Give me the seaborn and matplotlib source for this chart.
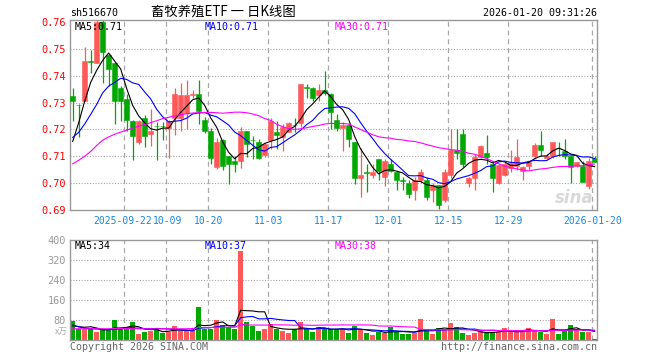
import numpy as np
import pandas as pd
import matplotlib
matplotlib.use("Agg")
import matplotlib.pyplot as plt
import seaborn as sns

# ---------------- data ----------------
opens = [0.7325, 0.7291, 0.7305, 0.7453, 0.7447, 0.7600, 0.7478, 0.7447, 0.7355, 0.7314,
         0.7232, 0.7153, 0.7243, 0.7183, 0.7214, 0.7214, 0.7205, 0.7244, 0.7244, 0.7260,
         0.7329, 0.7333, 0.7235, 0.7194, 0.7060, 0.7160, 0.7100, 0.7083, 0.7083, 0.7193,
         0.7162, 0.7153, 0.7103, 0.7162, 0.7192, 0.7173, 0.7192, 0.7218, 0.7222, 0.7356,
         0.7355, 0.7327, 0.7345, 0.7330, 0.7234, 0.7205, 0.7217, 0.7152, 0.7019, 0.7041,
         0.7029, 0.7090, 0.7021, 0.7072, 0.7041, 0.7011, 0.7000, 0.6976, 0.7010, 0.7010,
         0.6976, 0.6992, 0.6937, 0.7029, 0.7124, 0.7183, 0.7000, 0.7020, 0.7099, 0.7111,
         0.7072, 0.7001, 0.7029, 0.7058, 0.7062, 0.7044, 0.7062, 0.7102, 0.7142, 0.7092,
         0.7102, 0.7131, 0.7121, 0.7102, 0.7063, 0.7065, 0.6991, 0.7093]
highs = [0.7355, 0.7295, 0.7506, 0.7496, 0.7607, 0.7607, 0.7482, 0.7450, 0.7360, 0.7330,
         0.7235, 0.7235, 0.7255, 0.7275, 0.7229, 0.7229, 0.7235, 0.7355, 0.7373, 0.7383,
         0.7345, 0.7385, 0.7245, 0.7205, 0.7168, 0.7165, 0.7100, 0.7100, 0.7210, 0.7193,
         0.7175, 0.7163, 0.7150, 0.7244, 0.7232, 0.7220, 0.7226, 0.7244, 0.7367, 0.7367,
         0.7356, 0.7367, 0.7416, 0.7335, 0.7256, 0.7226, 0.7220, 0.7152, 0.7131, 0.7072,
         0.7072, 0.7090, 0.7090, 0.7090, 0.7041, 0.7023, 0.7010, 0.7023, 0.7053, 0.7023,
         0.7000, 0.6992, 0.7053, 0.7201, 0.7201, 0.7201, 0.7022, 0.7109, 0.7142, 0.7180,
         0.7084, 0.7072, 0.7078, 0.7125, 0.7164, 0.7062, 0.7084, 0.7149, 0.7194, 0.7108,
         0.7154, 0.7152, 0.7164, 0.7102, 0.7080, 0.7084, 0.7093, 0.7102]
lows = [0.7232, 0.7173, 0.7305, 0.7410, 0.7447, 0.7371, 0.7361, 0.7220, 0.7232, 0.7195,
        0.7085, 0.7145, 0.7134, 0.7138, 0.7085, 0.7160, 0.7092, 0.7180, 0.7195, 0.7201,
        0.7315, 0.7220, 0.7185, 0.7070, 0.7052, 0.7047, 0.6998, 0.7040, 0.7057, 0.7099,
        0.7090, 0.7090, 0.7099, 0.7127, 0.7127, 0.7121, 0.7189, 0.7189, 0.7207, 0.7318,
        0.7306, 0.7306, 0.7327, 0.7201, 0.7195, 0.7121, 0.7133, 0.6998, 0.6949, 0.6967,
        0.7020, 0.7010, 0.6988, 0.7040, 0.6976, 0.6973, 0.6943, 0.6937, 0.7000, 0.6937,
        0.6930, 0.6902, 0.6930, 0.7020, 0.7090, 0.7060, 0.6985, 0.6976, 0.7095, 0.7072,
        0.6967, 0.6995, 0.7025, 0.7040, 0.7050, 0.7010, 0.7050, 0.7095, 0.7102, 0.7088,
        0.7093, 0.7102, 0.7090, 0.7000, 0.7060, 0.7004, 0.6979, 0.7078]
closes = [0.7304, 0.7290, 0.7455, 0.7451, 0.7600, 0.7489, 0.7426, 0.7304, 0.7304, 0.7236,
          0.7175, 0.7232, 0.7175, 0.7193, 0.7212, 0.7212, 0.7232, 0.7333, 0.7327, 0.7327,
          0.7332, 0.7268, 0.7194, 0.7093, 0.7152, 0.7062, 0.7073, 0.7073, 0.7193, 0.7145,
          0.7160, 0.7095, 0.7145, 0.7232, 0.7180, 0.7207, 0.7222, 0.7216, 0.7367, 0.7354,
          0.7315, 0.7345, 0.7336, 0.7263, 0.7205, 0.7217, 0.7164, 0.7019, 0.7029, 0.7039,
          0.7040, 0.7045, 0.7082, 0.7045, 0.7010, 0.7009, 0.6961, 0.7010, 0.7041, 0.6949,
          0.6992, 0.6918, 0.7041, 0.7124, 0.7111, 0.7072, 0.7020, 0.7099, 0.7140, 0.7097,
          0.7020, 0.7066, 0.7072, 0.7075, 0.7099, 0.7059, 0.7078, 0.7142, 0.7125, 0.7102,
          0.7152, 0.7129, 0.7100, 0.7059, 0.7078, 0.7006, 0.7084, 0.7080]
volumes = [77, 43, 44, 44, 32, 41, 44, 80, 44, 44,
           72, 24, 33, 36, 44, 29, 33, 56, 36, 36,
           40, 132, 44, 44, 80, 61, 53, 44, 356, 72,
           56, 36, 44, 63, 44, 36, 28, 44, 72, 44,
           32, 51, 44, 43, 43, 43, 29, 57, 43, 29,
           20, 33, 27, 53, 33, 24, 24, 27, 84, 40,
           24, 49, 43, 68, 53, 28, 20, 28, 36, 33,
           33, 33, 47, 36, 36, 36, 47, 36, 33, 23,
           84, 23, 36, 60, 42, 34, 31, 4]

# moving-average values before enough history exists
ma5_head = [0.7155, 0.7225, 0.7305, 0.7375]
ma10_head = [0.7170, 0.7189, 0.7220, 0.7256, 0.7293, 0.7336, 0.7361, 0.7375, 0.7390]
ma30_head = [0.7072, 0.7085, 0.7100, 0.7118, 0.7140, 0.7160, 0.7172, 0.7182, 0.7190, 0.7197,
             0.7205, 0.7212, 0.7218, 0.7225, 0.7232, 0.7240, 0.7245, 0.7250, 0.7255, 0.7258,
             0.7261, 0.7262, 0.7263, 0.7263, 0.7262, 0.7260, 0.7262, 0.7264, 0.7264]
vma5_head = [57, 53, 51, 53]
vma10_head = [60, 53, 47, 45, 44, 42, 41, 42, 44]
vma30_head = [45, 45, 45, 45, 45, 45, 45, 46, 46, 46, 46, 45, 45, 45, 45, 45, 45, 45, 45, 45,
              46, 50, 50, 50, 51, 51, 51, 51, 62]

date_idx = [9, 16, 23, 33, 43, 53, 63, 73, 87]
date_labels = ["2025-09-22", "10-09", "10-20", "11-03", "11-17", "12-01", "12-15", "12-29", "2026-01-20"]
price_ticks = [0.69, 0.70, 0.71, 0.72, 0.73, 0.74, 0.75, 0.76]
vol_ticks = [80, 160, 240, 320, 400]
price_ma_labels = ["MA5:0.71", "MA10:0.71", "MA30:0.71"]
vol_ma_labels = ["MA5:34", "MA10:37", "MA30:38"]
code = "sh516670"
title = "畜牧养殖ETF 一 日K线图"
stamp = "2026-01-20 09:31:26"

# ---------------- derived ----------------
n = len(closes)
idx = np.arange(n)
o = np.array(opens); h = np.array(highs); l = np.array(lows); c = np.array(closes)
v = np.array(volumes, dtype=float)

def ma(series, w, head):
    s = pd.Series(series).rolling(w).mean().to_numpy()
    s[:len(head)] = head
    return s

ma5 = ma(c, 5, ma5_head); ma10 = ma(c, 10, ma10_head); ma30 = ma(c, 30, ma30_head)
vma5 = ma(v, 5, vma5_head); vma10 = ma(v, 10, vma10_head); vma30 = ma(v, 30, vma30_head)

UP = "#ff5858"; DOWN = "#00a800"
GRID = "#a8a8a8"; FRAME = "#999999"
DATE_BLUE = "#1a88d8"
up = c >= o
cols = np.where(up, UP, DOWN)

plt.rcParams["font.family"] = ["DejaVu Sans Mono", "Noto Sans CJK SC"]
MONO = 7.2

fig = plt.figure(figsize=(6.6, 3.6), dpi=100)
W, H = 660.0, 360.0
L, R = 70, 597
ax = fig.add_axes([L / W, 1 - 210 / H, (R - L) / W, 190 / H])
axv = fig.add_axes([L / W, 1 - 340 / H, (R - L) / W, 100 / H])

XLIM = (-0.45, 87.4)
for a in (ax, axv):
    a.set_xlim(*XLIM)
    for s in a.spines.values():
        s.set_color(FRAME)
        s.set_linewidth(1.0)
    for gi in date_idx:
        a.axvline(gi - 0.4, color=GRID, lw=0.9, ls=(0, (4, 3)), zorder=0)

# ---- price panel ----
ax.set_ylim(0.69, 0.7607)
for p in price_ticks[1:-1]:
    ax.axhline(p, color=GRID, lw=0.8, ls=(0, (1, 1.5)), zorder=0)

ax.vlines(idx, l, h, colors=cols, lw=0.9, zorder=2)
body = np.maximum(np.abs(c - o), 0.00012)
ax.bar(idx, body, bottom=np.minimum(o, c), width=0.76, color=cols,
       edgecolor=cols, linewidth=0.4, zorder=3)

sns.lineplot(x=idx, y=ma5, ax=ax, color="black", lw=0.8, zorder=4, legend=False)
sns.lineplot(x=idx, y=ma10, ax=ax, color="#0000ff", lw=0.8, zorder=4, legend=False)
sns.lineplot(x=idx, y=ma30, ax=ax, color="#ff00ff", lw=0.8, zorder=4, legend=False)
ax.set_xlabel(""); ax.set_ylabel("")
ax.set_xlim(*XLIM)
ax.set_xticks([])
ax.set_yticks(price_ticks)
ax.set_yticklabels([f"{p:.2f}" for p in price_ticks])
ax.tick_params(axis="y", length=0, pad=3, labelcolor="#ff0000", labelsize=7.4)

# date labels under the price panel (the first two touch, as in the reference)
nudge = {0: -0.3, 1: 0.25}
for k, (g, lab) in enumerate(zip(date_idx, date_labels)):
    ax.text(g - 0.4 + nudge.get(k, 0.0), -11 / 190, lab, transform=ax.get_xaxis_transform(),
            ha="center", va="center", fontsize=7.0, color=DATE_BLUE)

# ---- volume panel ----
axv.set_ylim(0, 400)
for t in vol_ticks[:-1]:
    axv.axhline(t, color=GRID, lw=0.8, ls=(0, (1, 1.5)), zorder=0)
axv.bar(idx, v, width=0.82, color=cols, zorder=2)
sns.lineplot(x=idx, y=vma5, ax=axv, color="black", lw=0.8, zorder=4, legend=False)
sns.lineplot(x=idx, y=vma10, ax=axv, color="#0000ff", lw=0.8, zorder=4, legend=False)
sns.lineplot(x=idx, y=vma30, ax=axv, color="#ff00ff", lw=0.8, zorder=4, legend=False)
axv.set_xlabel(""); axv.set_ylabel("")
axv.set_xlim(*XLIM)
axv.set_xticks([])
axv.set_yticks(vol_ticks)
axv.set_yticklabels([str(t) for t in vol_ticks])
axv.tick_params(axis="y", length=0, pad=3, labelcolor="#999999", labelsize=7.4)

# ---- texts ----
def ftext(xp, yp, s, **kw):
    fig.text(xp / W, 1 - yp / H, s, **kw)

ftext(70, 13, code, ha="left", va="center", fontsize=MONO, color="black")
ftext(223, 12, title, ha="center", va="center", fontsize=9.6, color="black",
      family=["Noto Sans CJK SC", "DejaVu Sans"])
ftext(597, 13, stamp, ha="right", va="center", fontsize=MONO, color="black")

ma_cols = ["black", "#0000ff", "#ff00ff"]
for k, (s1, s2) in enumerate(zip(price_ma_labels, vol_ma_labels)):
    ftext(75 + 130 * k, 27, s1, ha="left", va="center", fontsize=MONO, color=ma_cols[k], zorder=10)
    ftext(75 + 130 * k, 246, s2, ha="left", va="center", fontsize=MONO, color=ma_cols[k], zorder=10)

ftext(68, 331, "x万", ha="right", va="center", fontsize=6.2, color="#aaaaaa",
      family=["Noto Sans CJK SC", "DejaVu Sans"])
ftext(70, 347, "Copyright 2026 SINA.COM", ha="left", va="center", fontsize=MONO, color="#666666")
ftext(597, 347, "http://finance.sina.com.cn", ha="right", va="center", fontsize=MONO, color="#666666")
ftext(594, 198, "sina", ha="right", va="center", fontsize=12, color="#d8d8d8",
      fontstyle="italic", fontweight="bold", family=["DejaVu Sans"])

fig.savefig("out.png", dpi=100)
